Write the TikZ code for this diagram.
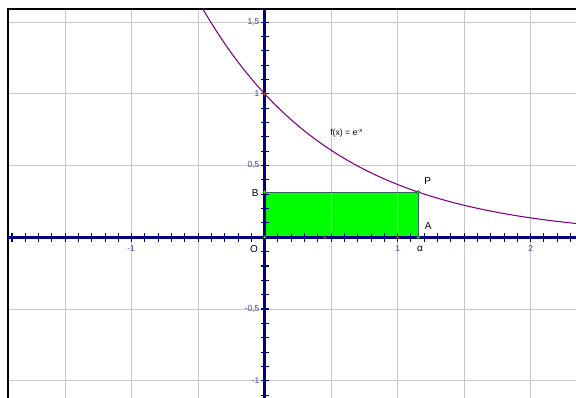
\documentclass[tikz,border=0pt]{standalone}
\usepackage{fontspec}
\setmainfont{Liberation Sans}
\definecolor{axisblue}{RGB}{0,0,128}
\definecolor{ticktext}{RGB}{64,64,160}
\definecolor{curvepurple}{RGB}{128,0,128}
\definecolor{rectedge}{RGB}{50,100,90}
\definecolor{gridgray}{RGB}{200,200,200}
\begin{document}
\begin{tikzpicture}[x=99.75pt, y=107.6pt]
    % Style definitions
    \tikzset{ticklab/.style={font=\fontsize{6.3}{7}\selectfont, text=ticktext, inner sep=0pt},
             ptlab/.style={font=\fontsize{7.5}{9}\selectfont, inner sep=0pt},
             greendot/.style={circle, fill=green, draw=black!75, line width=0.4pt, inner sep=0pt, minimum size=2.6pt},
             reddot/.style={circle, fill=red, draw=black!75, line width=0.4pt, inner sep=0pt, minimum size=2.6pt}}
    \tikzstyle{axis} = [axisblue, line width=2.2pt]
    \tikzstyle{tickmark} = [axisblue, line width=0.8pt]
    \tikzstyle{gridline} = [gridgray, line width=0.75pt]
    \def\al{1.155}

    \useasboundingbox (-1.990,-1.120) rectangle (2.341,1.654);

    % Points of the rectangle
    \coordinate (O) at (0,0);
    \coordinate (A) at (\al,0);
    \coordinate (P) at (\al,{exp(-\al)});
    \coordinate (B) at (0,{exp(-\al)});

    % Green rectangle
    \fill[green] (O) rectangle (P);

    % Grid
    \foreach \gx in {-1.5,-1,-0.5,0.5,1,1.5,2}
        \draw[gridline] (\gx,-1.120) -- (\gx,1.591);
    \foreach \gy in {-1,-0.5,0.5,1,1.5}
        \draw[gridline] (-1.930,\gy) -- (2.341,\gy);

    % Frame
    \draw[black, line width=1.6pt] (-1.930,-1.120) -- (-1.930,1.591) -- (2.341,1.591);

    % Rectangle edges
    \draw[rectedge, line width=0.8pt] (O) -- (A) -- (P) -- (B) -- cycle;

    % Curve f(x) = e^{-x}
    \draw[curvepurple, line width=0.8pt, domain=-0.465:2.341, samples=120] plot (\x,{exp(-\x)});

    % Axes
    \draw[axis] (-1.930,0) -- (2.341,0);
    \draw[axis] (0,1.591) -- (0,-1.120);

    % Ticks
    \foreach \t in {-19,...,23}
        \draw[tickmark] (\t/10,0) ++(0,-3.4pt) -- ++(0,6.8pt);
    \foreach \t in {-11,...,15}
        \draw[tickmark] (0,\t/10) ++(-2.6pt,0) -- ++(5.6pt,0);

    % Tick labels
    \node (lxm1) [ticklab] at (-1.005,-0.082) {-1};
    \node (lx1) [ticklab] at (1,-0.082) {1};
    \node (lx2) [ticklab] at (2,-0.082) {2};
    \node (ly15) [ticklab, anchor=east] at ([xshift=-3.8pt]0,1.5) {1,5};
    \node (ly1) [ticklab, anchor=east] at ([xshift=-3.8pt]0,1) {1};
    \node (ly05) [ticklab, anchor=east] at ([xshift=-3.8pt]0,0.5) {0,5};
    \node (lym05) [ticklab, anchor=east] at ([xshift=-3.8pt]0,-0.5) {-0,5};
    \node (lym1) [ticklab, anchor=east] at ([xshift=-3.8pt]0,-1) {-1};

    % Point labels
    \node (labO) [ptlab] at (-0.080,-0.084) {O};
    \node (labA) [ptlab] at (1.230,0.081) {A};
    \node (labP) [ptlab] at (1.226,0.394) {P};
    \node (labB) [ptlab] at (-0.071,0.311) {B};
    \node (labal) [ptlab] at (1.168,-0.084) {α};
    \node (labf) [font=\fontsize{6.5}{8}\selectfont, inner sep=0pt] at (0.617,0.725) {f(x) = e\textsuperscript{-x}};

    % Dots
    \node (d01) [reddot] at (0,1) {};
    \node (d10) [reddot] at (1,0) {};
    \node (dm) [reddot] at (0.453,0) {};
    \node (dO) [greendot] at (O) {};
    \node (dA) [greendot] at (A) {};
    \node (dP) [greendot] at (P) {};
    \node (dB) [greendot] at (B) {};

\end{tikzpicture}
\end{document}
